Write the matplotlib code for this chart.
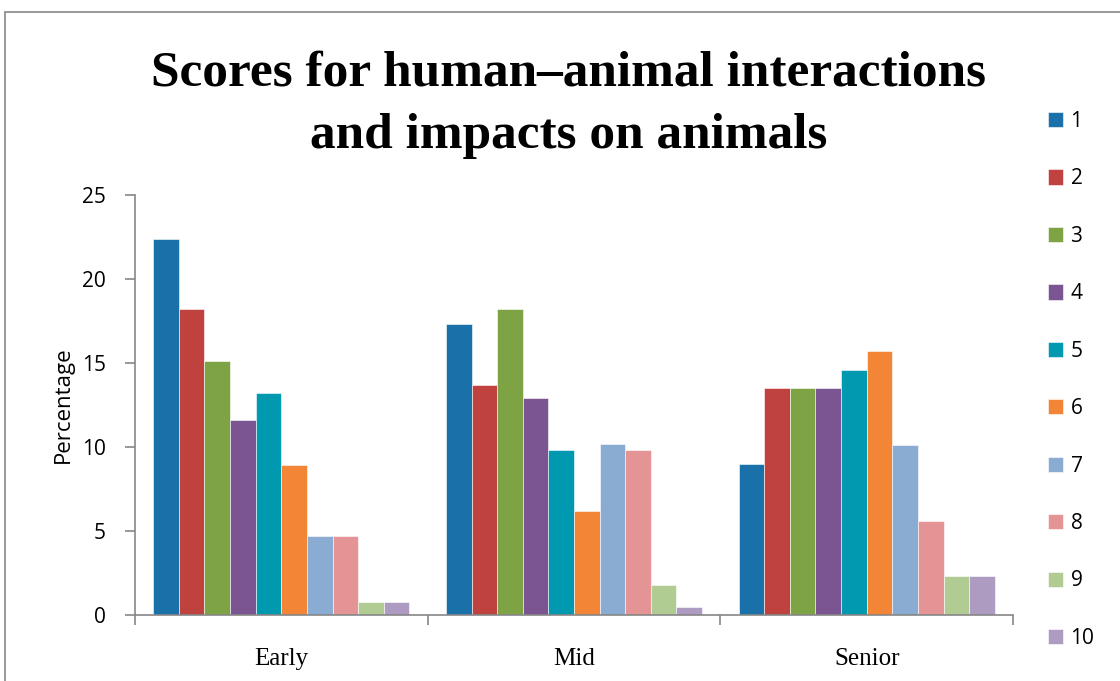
import matplotlib.pyplot as plt
import matplotlib.patches as patches
import numpy as np

groups = ['Early', 'Mid', 'Senior']
series = ['1', '2', '3', '4', '5', '6', '7', '8', '9', '10']

# percentage per score, one list per group
early = [22.4, 18.2, 15.1, 11.6, 13.2, 8.9, 4.7, 4.7, 0.8, 0.8]
mid = [17.3, 13.7, 18.2, 12.9, 9.8, 6.2, 10.2, 9.8, 1.8, 0.5]
senior = [9.0, 13.5, 13.5, 13.5, 14.6, 15.7, 10.1, 5.6, 2.3, 2.3]

colors = ['#1a70a8', '#c0423f', '#7da345', '#7a5591', '#0099b0',
          '#f28536', '#8aabd2', '#e49495', '#b1cc92', '#ae9bc2']

values = np.array([early, mid, senior])

fig = plt.figure(figsize=(11.2, 6.81), dpi=100)
ax = fig.add_axes([0.1205, 0.0969, 0.784, 0.6168])

# outer chart border
fig.patches.append(patches.Rectangle((5/1120, -0.05), 1.2, 1 - 12/681 + 0.05,
                                     transform=fig.transFigure, fill=False,
                                     edgecolor='#868686', linewidth=1.2))

x = np.arange(len(groups))
w = 0.0875
for i, s in enumerate(series):
    ax.bar(x + (i - 4.5) * w, values[:, i], width=w, color=colors[i],
           edgecolor='white', linewidth=0.4, label=s)

ax.set_xlim(-0.5, 2.5)
ax.set_ylim(0, 25)
ax.set_yticks([0, 5, 10, 15, 20, 25])
ax.set_xticks([-0.5, 0.5, 1.5, 2.5])
ax.set_xticklabels([])
ax.set_xticks(x, minor=True)
ax.set_xticklabels(groups, minor=True, fontsize=18, family='Liberation Serif')
ax.tick_params(axis='x', which='minor', length=0, pad=24)
ax.tick_params(axis='x', which='major', length=7, color='#868686', width=1.2)
ax.tick_params(axis='y', length=7, color='#868686', width=1.2, labelsize=15, pad=14)
for t in ax.get_yticklabels():
    t.set_family('Open Sans')

for sp in ['top', 'right']:
    ax.spines[sp].set_visible(False)
for sp in ['left', 'bottom']:
    ax.spines[sp].set_color('#868686')
    ax.spines[sp].set_linewidth(1.2)

ax.set_ylabel('Percentage', fontsize=16, family='Open Sans', labelpad=6)

fig.text(0.508, 0.846, 'Scores for human\u2013animal interactions\nand impacts on animals',
         ha='center', va='center', fontsize=37, fontweight='bold',
         family='Liberation Serif', linespacing=1.45)

leg = ax.legend(loc='upper left', bbox_to_anchor=(1.018, 1.245), frameon=False,
                prop={'family': 'Open Sans', 'size': 15}, handlelength=0.75,
                handleheight=0.75, labelspacing=1.75, handletextpad=0.35)

fig.savefig('out.png', dpi=100)
